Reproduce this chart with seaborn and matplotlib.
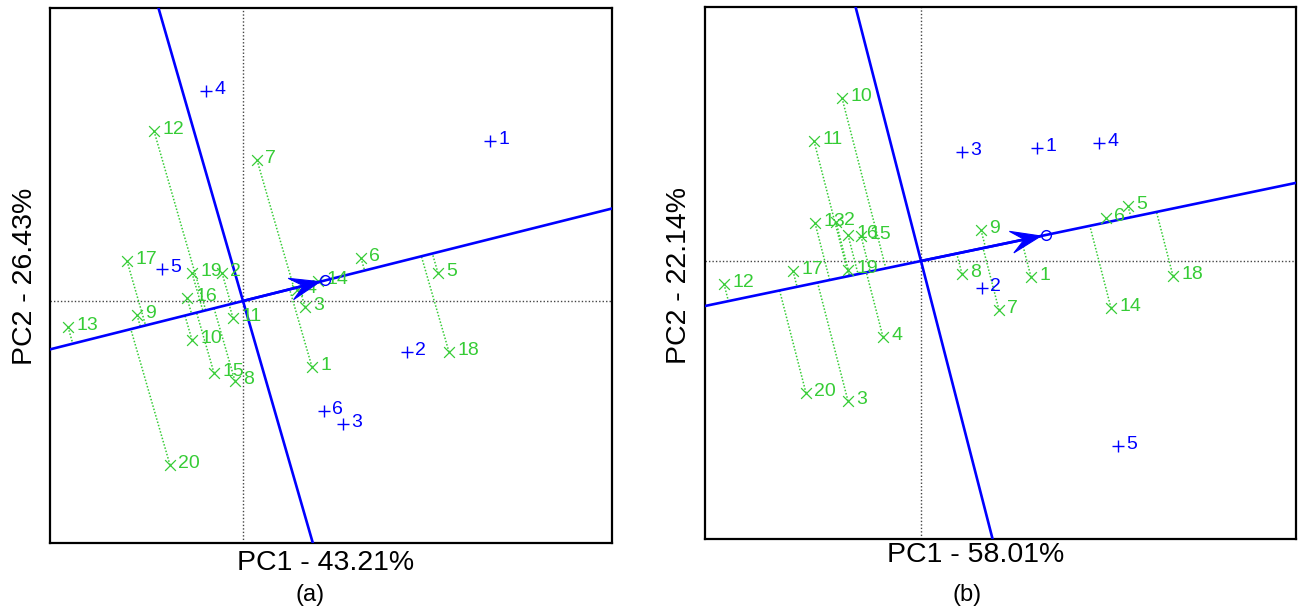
import numpy as np
import matplotlib
matplotlib.use("Agg")
import matplotlib.pyplot as plt
from matplotlib.patches import Polygon
import seaborn as sns

# ---------------- data (PC scores) ----------------
geno_labels = [str(i) for i in range(1, 21)]
env_labels_a = ["1", "2", "3", "4", "5", "6"]
env_labels_b = ["1", "2", "3", "4", "5"]

# panel (a)
geno_x_a = [0.69, -0.21, 0.62, 0.54, 1.95, 1.18, 0.14, -0.08, -1.06, -0.51,
            -0.10, -0.89, -1.75, 0.75, -0.29, -0.56, -1.16, 2.06, -0.51, -0.73]
geno_y_a = [-0.66, 0.28, -0.06, 0.11, 0.28, 0.43, 1.41, -0.80, -0.14, -0.39,
            -0.17, 1.70, -0.26, 0.20, -0.72, 0.03, 0.40, -0.51, 0.28, -1.64]
env_x_a = [2.47, 1.64, 1.00, -0.37, -0.81, 0.81]
env_y_a = [1.60, -0.51, -1.23, 2.10, 0.32, -1.10]
aec_a = [0.77, 0.193]          # average environment (arrow tip)
perp_a = [0.2885, -1.0]        # direction of the ordinate line

# panel (b)
geno_x_b = [1.10, -0.85, -0.73, -0.38, 2.07, 1.85, 0.78, 0.41, 0.60, -0.79,
            -1.07, -1.97, -1.06, 1.90, -0.60, -0.73, -1.28, 2.52, -0.73, -1.15]
geno_y_b = [-0.16, 0.39, -1.40, -0.76, 0.55, 0.43, -0.49, -0.13, 0.31, 1.63,
            1.20, -0.23, 0.38, -0.47, 0.25, 0.26, -0.10, -0.15, -0.09, -1.32]
env_x_b = [1.16, 0.61, 0.41, 1.78, 1.97]
env_y_b = [1.13, -0.27, 1.09, 1.18, -1.85]
aec_b = [1.20, 0.25]
perp_b = [0.2575, -1.0]

GREEN = "#36cc36"
BLUE = "#0000ff"

sns.set_style("white")
plt.rcParams["font.family"] = ["Liberation Sans", "DejaVu Sans"]
plt.rcParams["text.color"] = "black"

fig = plt.figure(figsize=(12.99, 6.11), dpi=100)
W, H = 1299, 611
LAB_FS = 14


def axes_px(l, r, t, b):
    return fig.add_axes([l / W, 1 - b / H, (r - l) / W, (b - t) / H])


def draw_panel(ax, gx, gy, ex, ey, aec, perp, xlim, ylim):
    ax.set_xlim(*xlim)
    ax.set_ylim(*ylim)
    ax.axhline(0, color="#444444", ls=(0, (1, 1.5)), lw=1.0, zorder=1)
    ax.axvline(0, color="#444444", ls=(0, (1, 1.5)), lw=1.0, zorder=1)
    d1 = np.array(aec, float)
    d2 = np.array(perp, float)
    M = np.column_stack([d1, -d2])
    for x, y in zip(gx, gy):
        s, t = np.linalg.solve(M, np.array([x, y]))
        q = s * d1
        ax.plot([x, q[0]], [y, q[1]], color=GREEN, ls=(0, (1, 1.2)), lw=1.1, zorder=2)
    ax.axline((0, 0), (d1[0], d1[1]), color=BLUE, lw=1.9, zorder=3)
    ax.axline((0, 0), (d2[0], d2[1]), color=BLUE, lw=1.9, zorder=3)
    sns.scatterplot(x=gx, y=gy, marker="x", color=GREEN, s=60, linewidth=0.9, ax=ax, zorder=4)
    sns.scatterplot(x=ex, y=ey, marker="+", color=BLUE, s=80, linewidth=1.0, ax=ax, zorder=4)
    for x, y, lab in zip(gx, gy, geno_labels):
        ax.annotate(lab, (x, y), xytext=(6, 1), textcoords="offset points",
                    ha="left", va="center", color=GREEN, fontsize=LAB_FS, zorder=5)


def finish(ax, aec, env_labels, ex, ey):
    for x, y, lab in zip(ex, ey, env_labels):
        ax.annotate(lab, (x, y), xytext=(6, 1), textcoords="offset points",
                    ha="left", va="center", color=BLUE, fontsize=LAB_FS, zorder=5)
    tip = np.array(aec, float)
    u = tip / np.hypot(*tip)
    n = np.array([-u[1], u[0]])
    ax.plot([0, tip[0]], [0, tip[1]], color=BLUE, lw=1.9, zorder=6)
    # swept-back (stealth) head; 1 data unit = 100 px in both directions
    L, Wd, notch = 0.30, 0.11, 0.17
    head = [tip, tip - L * u + Wd * n, tip - notch * u, tip - L * u - Wd * n]
    ax.add_patch(Polygon(head, closed=True, facecolor=BLUE, edgecolor=BLUE,
                         lw=0.8, zorder=6))
    ax.plot([tip[0] + 0.05 * u[0]], [tip[1] + 0.05 * u[1]], marker="o", ms=7,
            mfc="none", mec=BLUE, mew=1.0, zorder=6)
    ax.set_xticks([])
    ax.set_yticks([])
    ax.set_xlabel("")
    ax.set_ylabel("")
    for sp in ax.spines.values():
        sp.set_visible(True)
        sp.set_color("black")
        sp.set_linewidth(1.6)


ax1 = axes_px(50, 612, 8, 543)
draw_panel(ax1, geno_x_a, geno_y_a, env_x_a, env_y_a, aec_a, perp_a,
           (-1.93, 3.69), (-2.42, 2.93))
finish(ax1, aec_a, env_labels_a, env_x_a, env_y_a)

ax2 = axes_px(705, 1296, 7, 539)
draw_panel(ax2, geno_x_b, geno_y_b, env_x_b, env_y_b, aec_b, perp_b,
           (-2.16, 3.75), (-2.78, 2.54))
finish(ax2, aec_b, env_labels_b, env_x_b, env_y_b)

fs_lab = 20.5
fig.text(326 / W, 1 - 563 / H, "PC1 - 43.21%", ha="center", va="center", fontsize=fs_lab)
fig.text(310 / W, 1 - 595 / H, "(a)", ha="center", va="center", fontsize=17)
fig.text(25 / W, 1 - 276 / H, "PC2 - 26.43%", ha="center", va="center", fontsize=fs_lab, rotation=90)

fig.text(976 / W, 1 - 555 / H, "PC1 - 58.01%", ha="center", va="center", fontsize=fs_lab)
fig.text(967 / W, 1 - 595 / H, "(b)", ha="center", va="center", fontsize=17)
fig.text(679 / W, 1 - 276 / H, "PC2 - 22.14%", ha="center", va="center", fontsize=fs_lab, rotation=90)

fig.savefig("out.png", dpi=100)
